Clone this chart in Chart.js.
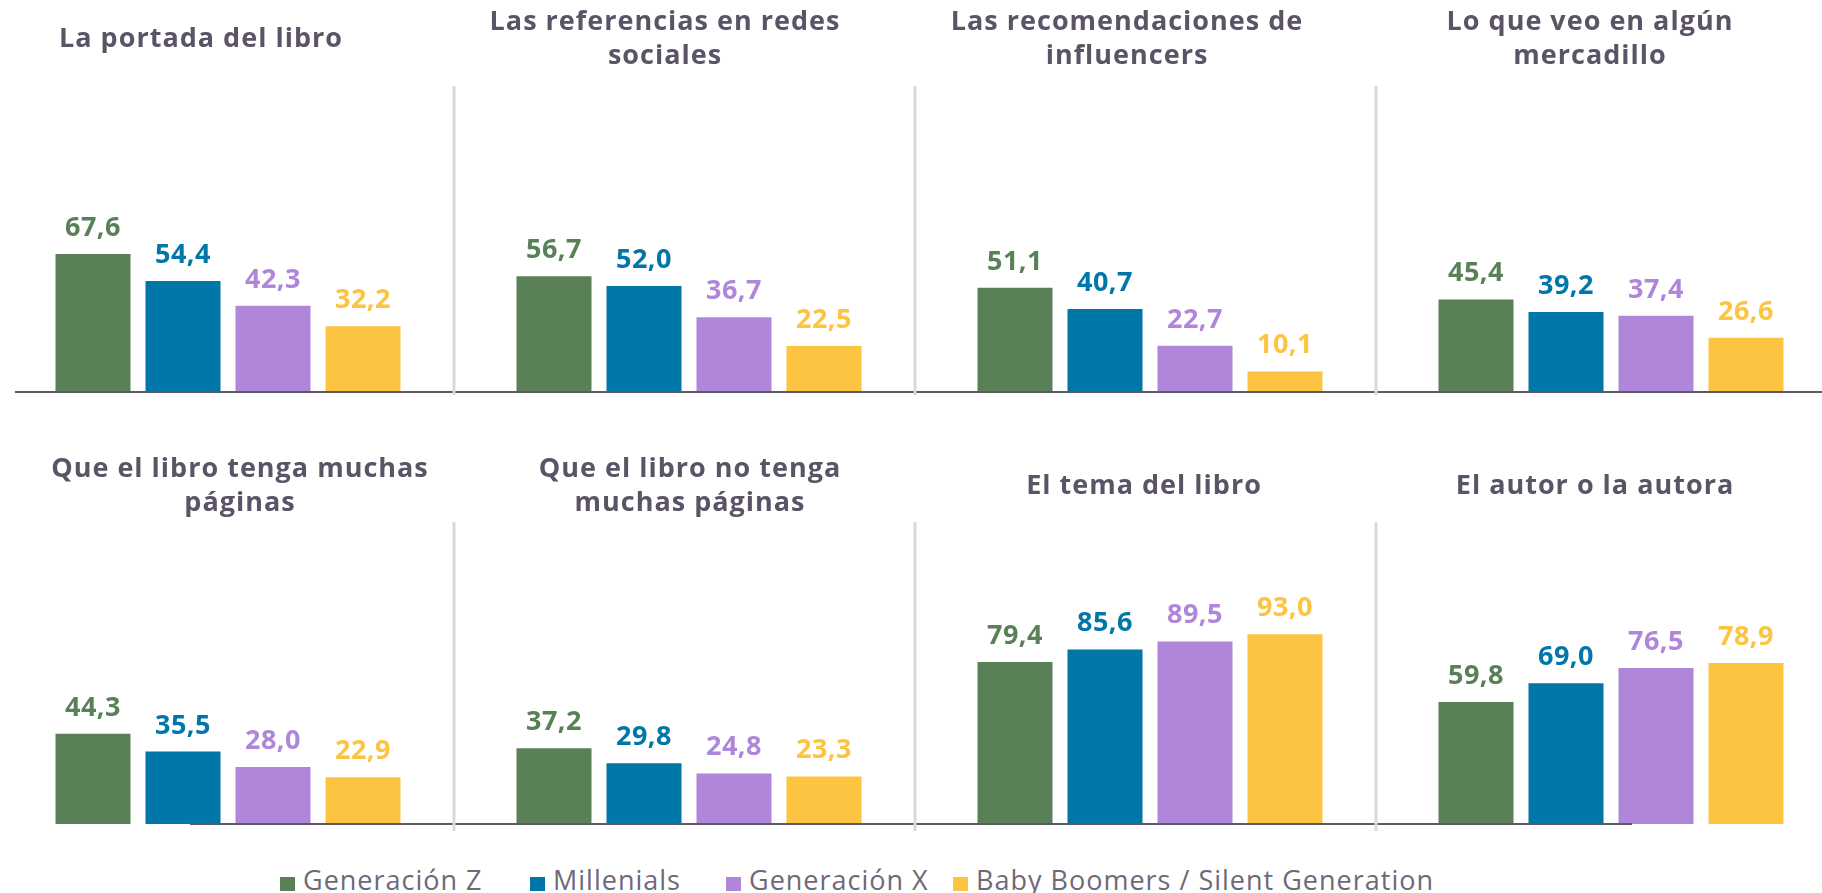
<!DOCTYPE html>
<html lang="es">
<head>
<meta charset="utf-8">
<title>¿Qué influye al elegir un libro?</title>
<script src="https://cdn.jsdelivr.net/npm/chart.js@4/dist/chart.umd.min.js"></script>
<style>
    html, body { margin: 0; padding: 0; background: #fff; overflow: hidden; }
    #wrap { position: relative; width: 1822px; height: 893px; overflow: hidden; }
    #wrap canvas { position: absolute; }
    #legend {
        position: absolute; left: 0; top: 865px; width: 1822px; height: 30px;
        font-family: "Open Sans", sans-serif; font-size: 27px; line-height: 30px;
        letter-spacing: 1px; color: #6e6878; white-space: nowrap;
    }
    #legend .item { position: absolute; top: 0; padding-left: 23px; }
    #legend .box { position: absolute; left: 0; top: 11.5px; width: 15px; height: 14px; }
</style>
</head>
<body>
<div id="wrap">
    <div id="legend"></div>
</div>
<script>
// títulos de cada panel, ya partidos en líneas
var categories = [
    ['La portada del libro'],
    ['Las referencias en redes', 'sociales'],
    ['Las recomendaciones de', 'influencers'],
    ['Lo que veo en algún', 'mercadillo'],
    ['Que el libro tenga muchas', 'páginas'],
    ['Que el libro no tenga', 'muchas páginas'],
    ['El tema del libro'],
    ['El autor o la autora']
];

var seriesNames = ['Generación Z', 'Millenials', 'Generación X', 'Baby Boomers / Silent Generation'];

var genZ       = [67.6, 56.7, 51.1, 45.4, 44.3, 37.2, 79.4, 59.8];
var millenials = [54.4, 52.0, 40.7, 39.2, 35.5, 29.8, 85.6, 69.0];
var genX       = [42.3, 36.7, 22.7, 37.4, 28.0, 24.8, 89.5, 76.5];
var boomers    = [32.2, 22.5, 10.1, 26.6, 22.9, 23.3, 93.0, 78.9];

var series = [genZ, millenials, genX, boomers];
var colors = ['#5a8058', '#0076a9', '#b086da', '#fcc440'];

var titleColor = '#5b5466';
var fontFamily = '"Open Sans", sans-serif';

// filas de paneles
var rows = [
    { top: 0,   height: 400, yMax: 150, padBottom: 13.1, sepBelow: 3,
      titleShift: [-27, -24, -23, -21],
      insets: [{ start: 18 }, {}, {}, {}] },
    { top: 447, height: 385, yMax: 148, padBottom: 2.3, sepBelow: 7,
      titleShift: [12, 1, -6, -16],
      insets: [{ start: 193 }, {}, {}, { end: 210 }] }
];
var panelW = 462, panelStep = 461;
var titleLine = 33.6;
var legendLeft = [280, 530, 726, 953];

function fmt(v) {
    return v.toFixed(1).replace('.', ',');
}

// un poco de espaciado entre letras para el título, y desplazarlo en horizontal
var titleTweak = {
    id: 'titleTweak',
    afterLayout: function (chart, args, opts) {
        var t = chart.titleBlock;
        if (t && opts.shift) {
            t.left += opts.shift;
            t.right += opts.shift;
        }
    },
    beforeDraw: function (chart) {
        chart.ctx.letterSpacing = '1px';
    },
    afterDraw: function (chart) {
        chart.ctx.letterSpacing = '0px';
    }
};

// etiquetas de valor encima de cada barra
var valueLabels = {
    id: 'valueLabels',
    afterDatasetsDraw: function (chart) {
        var ctx = chart.ctx;
        ctx.save();
        ctx.font = 'bold 27px ' + fontFamily;
        ctx.letterSpacing = '0.5px';
        ctx.textAlign = 'center';
        ctx.textBaseline = 'alphabetic';
        chart.data.datasets.forEach(function (ds, i) {
            chart.getDatasetMeta(i).data.forEach(function (bar, j) {
                ctx.fillStyle = ds.backgroundColor;
                ctx.fillText(fmt(ds.data[j]), bar.x, bar.y - 18);
            });
        });
        ctx.restore();
    }
};

// línea base y separador vertical entre paneles
var panelLines = {
    id: 'panelLines',
    afterDatasetsDraw: function (chart, args, opts) {
        var ctx = chart.ctx;
        var area = chart.chartArea;
        var y0 = chart.scales.y.getPixelForValue(0);
        ctx.save();
        ctx.strokeStyle = '#5f5866';
        ctx.lineWidth = 2;
        ctx.beginPath();
        ctx.moveTo(area.left + (opts.start || 0), y0);
        ctx.lineTo(area.right - (opts.end || 0), y0);
        ctx.stroke();
        if (opts.separator) {
            ctx.strokeStyle = '#d9d9d9';
            ctx.lineWidth = 3;
            ctx.beginPath();
            ctx.moveTo(area.right - 5, area.top);
            ctx.lineTo(area.right - 5, y0 + opts.sepBelow);
            ctx.stroke();
        }
        ctx.restore();
    }
};

var wrap = document.getElementById('wrap');

categories.forEach(function (title, p) {
    var row = rows[Math.floor(p / 4)];
    var col = p % 4;
    var canvas = document.createElement('canvas');
    canvas.width = panelW;
    canvas.height = row.height;
    canvas.style.left = (panelStep * col - 3) + 'px';
    canvas.style.top = row.top + 'px';
    wrap.appendChild(canvas);

    var half = title.length === 1 ? titleLine / 2 : 0;
    var inset = row.insets[col];

    new Chart(canvas.getContext('2d'), {
        type: 'bar',
        data: {
            labels: [''],
            datasets: series.map(function (s, i) {
                return {
                    label: seriesNames[i],
                    data: [s[p]],
                    backgroundColor: colors[i],
                    borderWidth: 0
                };
            })
        },
        options: {
            responsive: false,
            animation: false,
            events: [],
            categoryPercentage: 360 / panelW,
            barPercentage: 75 / 90,
            layout: { padding: { left: 0, right: 0, top: 0, bottom: 8 } },
            scales: {
                x: { display: false },
                y: { display: false, min: 0, max: row.yMax }
            },
            plugins: {
                legend: { display: false },
                tooltip: { enabled: false },
                title: {
                    display: true,
                    text: title,
                    color: titleColor,
                    font: { family: fontFamily, size: 27, weight: 'bold', lineHeight: titleLine / 27 },
                    padding: { top: 5.7 + half, bottom: row.padBottom + half }
                },
                titleTweak: { shift: row.titleShift[col] },
                panelLines: {
                    start: inset.start,
                    end: inset.end,
                    separator: col < 3,
                    sepBelow: row.sepBelow
                }
            }
        },
        plugins: [titleTweak, valueLabels, panelLines]
    });
});

// leyenda
var legend = document.getElementById('legend');
seriesNames.forEach(function (name, i) {
    var item = document.createElement('span');
    item.className = 'item';
    item.style.left = legendLeft[i] + 'px';
    var box = document.createElement('span');
    box.className = 'box';
    box.style.background = colors[i];
    item.appendChild(box);
    item.appendChild(document.createTextNode(name));
    legend.appendChild(item);
});
</script>
</body>
</html>
